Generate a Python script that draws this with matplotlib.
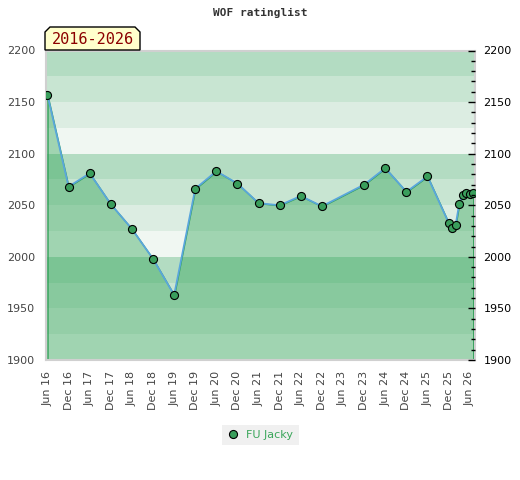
import matplotlib
matplotlib.use("Agg")
import matplotlib.pyplot as plt
from matplotlib.patches import Polygon
from matplotlib.ticker import MultipleLocator

# months counted from Jun 2016
months = [0, 6, 12, 18, 24, 30, 36, 42, 48, 54, 60, 66, 72, 78, 90, 96, 102,
          108, 114, 115, 116, 117, 118, 119, 120, 121]
rating = [2157, 2068, 2081, 2051, 2027, 1998, 1963, 2066, 2083, 2071, 2052,
          2050, 2059, 2049, 2070, 2086, 2063, 2078, 2033, 2028, 2031, 2051,
          2060, 2062, 2061, 2062]
tick_months = list(range(0, 121, 6))
tick_labels = []
for i, m in enumerate(tick_months):
    yy = 16 + (m + 5) // 12
    tick_labels.append(("Jun " if i % 2 == 0 else "Dec ") + str(yy))
player = "FU Jacky"
period = "2016-2026"
title = "WOF ratinglist"

band_cols = ["#f0f7f2", "#dcede2", "#c8e5d2", "#b3dcc2"]  # from low to high within 100

fig = plt.figure(figsize=(5.2, 4.8), dpi=100)
ax = fig.add_axes([45.7 / 520, 1 - 360 / 480, (475 - 45.7) / 520, (360 - 50.5) / 480])

ymin, ymax = 1900, 2200
xmin, xmax = -0.5, 121.5
for k, lo in enumerate(range(ymin, ymax, 25)):
    ax.axhspan(lo, lo + 25, color=band_cols[k % 4], lw=0, zorder=0)

ax.fill_between(months, rating, ymin, facecolor=(40 / 255, 160 / 255, 80 / 255, 0.4),
                edgecolor="#2e9e55", lw=1.0, zorder=1)
ax.plot(months, rating, color="#5aa6dc", lw=1.3, zorder=2)
ax.plot(months, rating, ls="none", marker="o", ms=5.8, mfc="#3a9e5c", mec="black",
        mew=0.8, zorder=3, label=player)

ax.set_xlim(xmin, xmax)
ax.set_ylim(ymin, ymax)
ax.set_xticks(tick_months)
ax.set_xticklabels(tick_labels, rotation=90, fontsize=8, color="#444444")
ax.set_yticks(range(ymin, ymax + 1, 50))
ax.tick_params(axis="y", length=0, pad=7.5, labelsize=8, labelcolor="#444444")
ax.tick_params(axis="x", length=0, pad=8)
for s in ax.spines.values():
    s.set_color("#d0d0d0")
    s.set_linewidth(1.5)

ax2 = ax.twinx()
ax2.set_ylim(ymin, ymax)
ax2.set_yticks(range(ymin, ymax + 1, 50))
ax2.yaxis.set_minor_locator(MultipleLocator(10))
ax2.tick_params(axis="y", which="major", direction="in", length=5, width=1,
                pad=6, labelsize=8, labelcolor="black")
ax2.tick_params(axis="y", which="minor", direction="in", length=3, width=1)
for s in ax2.spines.values():
    s.set_visible(False)

fig.text(260 / 520, 1 - 13 / 480, title, ha="center", va="center",
         family="DejaVu Sans Mono", fontweight="bold", fontsize=8, color="#333333")

# period label box with chamfered top corners
pts = [(45, 50), (45, 32), (50, 27), (135, 27), (140, 32), (140, 50)]
poly = Polygon([(x / 520, 1 - y / 480) for x, y in pts], closed=True,
               transform=fig.transFigure, facecolor="#ffffcc", edgecolor="black",
               lw=1, zorder=5)
fig.patches.append(poly)
fig.text(92.5 / 520, 1 - 40 / 480, period, ha="center", va="center",
         family="DejaVu Sans Mono", fontsize=11, color="#8b0000", zorder=6)

leg = ax.legend(loc="upper center", bbox_to_anchor=(0.5, 1 - 425 / 480),
                bbox_transform=fig.transFigure, frameon=True, fontsize=8,
                borderaxespad=0, handletextpad=0.6, handlelength=1.2, borderpad=0.45,
                fancybox=False, edgecolor="none", facecolor="#f0f0f0", framealpha=1)
for t in leg.get_texts():
    t.set_color("#3aa65a")

fig.savefig("out.png", dpi=100)
